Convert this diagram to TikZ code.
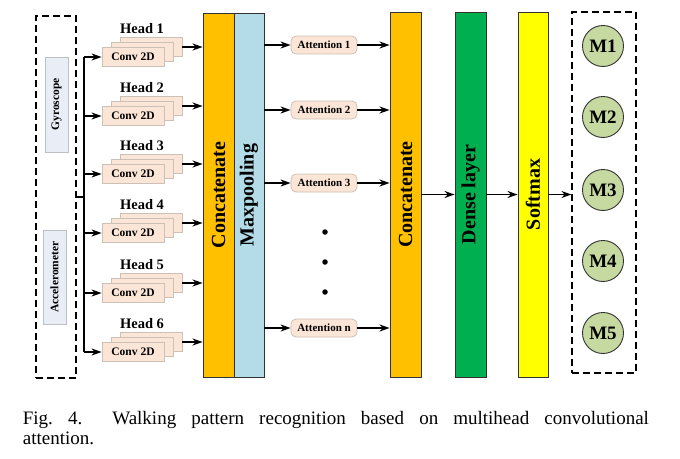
\documentclass[tikz,border=0pt]{standalone}
\usepackage{fontspec}
\setmainfont{Liberation Serif}
\usetikzlibrary{arrows.meta,calc}
\definecolor{convfill}{RGB}{251,229,214}
\definecolor{convdraw}{RGB}{205,192,182}
\definecolor{sensfill}{RGB}{232,237,246}
\definecolor{sensdraw}{RGB}{190,192,196}
\definecolor{catcol}{RGB}{255,192,0}
\definecolor{poolcol}{RGB}{180,220,232}
\definecolor{densecol}{RGB}{0,176,80}
\definecolor{softcol}{RGB}{255,255,0}
\definecolor{mcol}{RGB}{198,217,160}
\definecolor{bardraw}{RGB}{50,50,50}
\begin{document}
\begin{tikzpicture}[x=1pt,y=-1pt,
  arr/.style={-{Stealth[length=10pt,width=7pt]}, line width=1.5pt},
  dashbox/.style={draw, dash pattern=on 7pt off 4pt, line width=1.2pt, inner sep=0pt},
  sensbox/.style={draw=sensdraw, fill=sensfill, line width=0.8pt, inner sep=0pt, minimum width=23pt},
  senstxt/.style={rotate=90, font=\fontsize{11.5}{13}\selectfont\bfseries},
  convbox/.style={draw=convdraw, fill=convfill, line width=0.8pt, minimum width=62pt, minimum height=19pt, inner sep=0pt, font=\fontsize{11.5}{13}\selectfont\bfseries},
  headlbl/.style={font=\fontsize{14.5}{16}\selectfont\bfseries, inner sep=0pt},
  bar/.style={draw=bardraw, line width=0.9pt, inner sep=0pt},
  bartxt/.style={rotate=90, font=\fontsize{20}{22}\selectfont\bfseries, inner sep=0pt},
  attbox/.style={draw=convdraw, fill=convfill, rounded corners=5pt, line width=0.8pt, minimum width=66pt, minimum height=18pt, inner sep=0pt, font=\fontsize{11}{12}\selectfont\bfseries},
  dotnode/.style={circle, fill=black, inner sep=0pt, minimum size=5.5pt},
  mnode/.style={circle, draw=bardraw, fill=mcol, line width=0.9pt, minimum size=41pt, inner sep=0pt, font=\fontsize{19}{20}\selectfont\bfseries},
  captxt/.style={anchor=north west, inner sep=0pt, text width=626pt, align=justify, font=\fontsize{19}{20}\selectfont}
]
\useasboundingbox (0,0) rectangle (680,458);

% input dashed box and sensors
\node[dashbox, minimum width=40pt, minimum height=362pt] (inbox) at (56,197) {};
\node[sensbox, minimum height=95pt] (gyro) at (56.5,104.5) {};
\node[senstxt] (gyrot) at (gyro.center) {Gyroscope};
\node[sensbox, minimum height=94pt] (acc) at (54.5,277) {};
\node[senstxt] (acct) at (acc.center) {Accelerometer};

% bus
\coordinate (bt) at (84,57);
\coordinate (bb) at (84,352);
\draw[line width=1.5pt] (bt) -- (bb);
\draw[line width=1.5pt] (inbox.east) -- (inbox.east -| bt);

% bars
\node[bar, fill=catcol, minimum width=31pt, minimum height=364pt] (cat1) at (218.5,195) {};
\node[bartxt] (cat1t) at (cat1.center) {Concatenate};
\node[bar, fill=poolcol, minimum width=30pt, minimum height=364pt] (pool) at (249,195) {};
\node[bartxt] (poolt) at (pool.center) {Maxpooling};
\node[bar, fill=catcol, minimum width=31pt, minimum height=365pt] (cat2) at (405.5,194.5) {};
\node[bartxt] (cat2t) at (cat2.center) {Concatenate};
\node[bar, fill=densecol, minimum width=31pt, minimum height=365pt] (dense) at (470.5,194.5) {};
\node[bartxt] (denset) at (dense.center) {Dense layer};
\node[bar, fill=softcol, minimum width=30pt, minimum height=365pt] (soft) at (533,194.5) {};
\node[bartxt] (softt) at (soft.center) {Softmax};

% heads
\foreach \i/\y in {1/57,2/116,3/174,4/233,5/293,6/352} {
  \node[convbox] (c\i b) at (151,\y-10) {};
  \node[convbox] (c\i m) at (142,\y-5) {};
  \node[convbox] (c\i) at (133,\y) {Conv 2D};
  \node[headlbl] (h\i) at (142,\y-28) {Head \i};
  \draw[arr] (c\i.west -| bt) -- (c\i.west);
  \draw[arr] (c\i b.east) -- (c\i b.east -| cat1.west);
}

% attention
\foreach \n/\t/\y in {a1/1/45,a2/2/110,a3/3/183,an/n/328} {
  \node[attbox] (\n) at (324,\y) {Attention \t};
  \draw[arr] (\n.west -| pool.east) -- (\n.west);
  \draw[arr] (\n.east) -- (\n.east -| cat2.west);
}
\node[dotnode] (d1) at (325,232) {};
\node[dotnode] (d2) at (325,262) {};
\node[dotnode] (d3) at (325,292) {};

% output
\node[dashbox, minimum width=64pt, minimum height=361pt] (outbox) at (604,192.5) {};
\draw[arr] (cat2.east) -- (dense.west);
\draw[arr] (dense.east) -- (soft.west);
\draw[arr] (soft.east) -- (soft.east -| outbox.west);
\node[mnode] (m1) at (603,46) {M1};
\node[mnode] (m2) at (603,117) {M2};
\node[mnode] (m3) at (603,190) {M3};
\node[mnode] (m4) at (603,261) {M4};
\node[mnode] (m5) at (603,333) {M5};

% caption
\node[captxt] (cap) at (22.7,411.5) {Fig.\ 4.\hspace{30pt}Walking pattern recognition based on multihead convolutional\linebreak attention.};
\end{tikzpicture}
\end{document}
